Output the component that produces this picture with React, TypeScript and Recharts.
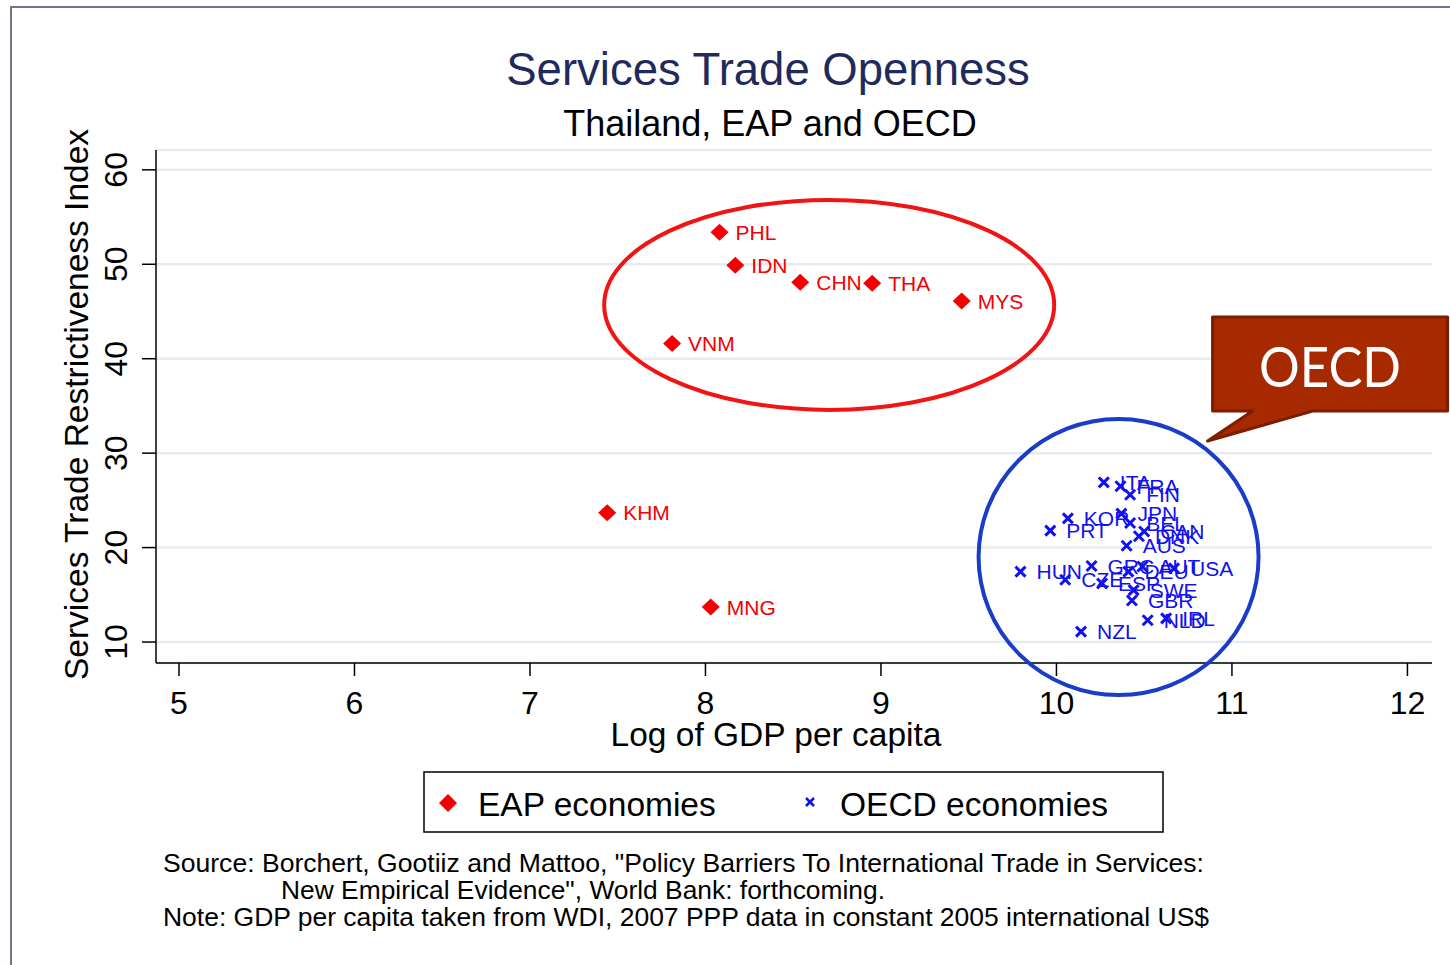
import React from "react";
import {
  ScatterChart,
  Scatter,
  XAxis,
  YAxis,
  CartesianGrid,
  ReferenceDot,
  Label,
} from "recharts";

// ---------- data ----------
const eapNames = ["PHL", "IDN", "CHN", "THA", "MYS", "VNM", "KHM", "MNG"];
const eapGdp = [8.08, 8.17, 8.54, 8.95, 9.46, 7.81, 7.44, 8.03];
const eapStri = [53.4, 49.9, 48.1, 48.0, 46.1, 41.6, 23.7, 13.7];

const oecdNames = [
  "ITA", "FRA", "FIN", "KOR", "JPN", "BEL", "CAN", "DNK", "PRT", "AUS", "HUN",
  "GRC", "CZE", "ESP", "DEU", "AUT", "USA", "SWE", "GBR", "NLD", "IRL", "NZL",
];
const oecdGdp = [
  10.27, 10.365, 10.42, 10.065, 10.37, 10.42, 10.5, 10.47, 9.965, 10.4, 9.795,
  10.2, 10.05, 10.26, 10.41, 10.49, 10.67, 10.44, 10.43, 10.52, 10.625, 10.14,
];
const oecdStri = [
  26.9, 26.5, 25.6, 23.1, 23.6, 22.6, 21.7, 21.2, 21.8, 20.2, 17.45,
  18.05, 16.6, 16.2, 17.45, 18.0, 17.8, 15.5, 14.4, 12.3, 12.5, 11.1,
];

const xTicks = [5, 6, 7, 8, 9, 10, 11, 12];
const yTicks = [10, 20, 30, 40, 50, 60];
const xDomain = [4.869, 12.14];
const yDomain = [7.78, 62.1];

// annotation anchors (data coordinates)
const eapCircleCenter = { x: 8.705, y: 45.7 };
const oecdCircleCenter = { x: 10.354, y: 19.0 };

const eapData = eapNames.map((name, i) => ({ name, x: eapGdp[i], y: eapStri[i] }));
const oecdData = oecdNames.map((name, i) => ({ name, x: oecdGdp[i], y: oecdStri[i] }));

const FONT = "'Liberation Sans', Arial, Helvetica, sans-serif";
const RED = "#f50000";
const BLUE = "#1010f0";

// ---------- shapes ----------
const Diamond = (p: any) => {
  const { cx, cy, payload } = p;
  if (cx == null || cy == null) return null;
  return (
    <g>
      <polygon
        points={`${cx},${cy - 8.5} ${cx + 9},${cy} ${cx},${cy + 8.5} ${cx - 9},${cy}`}
        fill={RED}
      />
      <text x={cx + 16} y={cy + 7.5} fontSize={21} fill={RED} fontFamily={FONT}>
        {payload.name}
      </text>
    </g>
  );
};

const Cross = (p: any) => {
  const { cx, cy, payload } = p;
  if (cx == null || cy == null) return null;
  const s = 5;
  return (
    <g>
      <line x1={cx - s} y1={cy - s} x2={cx + s} y2={cy + s} stroke={BLUE} strokeWidth={3} />
      <line x1={cx - s} y1={cy + s} x2={cx + s} y2={cy - s} stroke={BLUE} strokeWidth={3} />
      <text x={cx + 16} y={cy + 7.5} fontSize={21} fill={BLUE} fontFamily={FONT}>
        {payload.name}
      </text>
    </g>
  );
};

const RedEllipse = (p: any) => (
  <ellipse cx={p.cx} cy={p.cy} rx={225} ry={105} fill="none" stroke="#f01414" strokeWidth={4} />
);

const BlueCircle = (p: any) => {
  const { cx, cy } = p;
  const bx = cx + 94;
  const by = cy - 240;
  const bw = 235;
  const bh = 94;
  const path = `M ${bx} ${by} L ${bx + bw} ${by} L ${bx + bw} ${by + bh} L ${bx + 100} ${by + bh} L ${cx + 89} ${cy - 116} L ${bx + 40} ${by + bh} L ${bx} ${by + bh} Z`;
  return (
    <g>
      <ellipse cx={cx} cy={cy} rx={140} ry={138} fill="none" stroke="#1a3cc8" strokeWidth={4} />
      <path d={path} fill="#a62900" stroke="#7c1d00" strokeWidth={3} strokeLinejoin="round" />
      <text
        x={bx + bw / 2}
        y={by + 70}
        textAnchor="middle"
        fontSize={56}
        fill="#ffffff"
        fontFamily="Lato, 'Open Sans', sans-serif"
        textLength={142}
        lengthAdjust="spacingAndGlyphs"
      >
        OECD
      </text>
    </g>
  );
};

// ---------- ticks ----------
const XTick = (p: any) => (
  <text x={p.x} y={p.y + 38} textAnchor="middle" fontSize={32} fill="#000" fontFamily={FONT}>
    {p.payload.value}
  </text>
);

const YTick = (p: any) => (
  <text
    transform={`translate(${p.x - 15}, ${p.y}) rotate(-90)`}
    textAnchor="middle"
    fontSize={32}
    fill="#000"
    fontFamily={FONT}
  >
    {p.payload.value}
  </text>
);

const XLabel = (p: any) => {
  const vb = p.viewBox || {};
  return (
    <text x={vb.x + vb.width / 2 - 18} y={vb.y + 83} textAnchor="middle" fontSize={33.5} fill="#000" fontFamily={FONT}>
      Log of GDP per capita
    </text>
  );
};

const YLabel = (p: any) => {
  const vb = p.viewBox || {};
  const cy = vb.y + vb.height / 2 - 2;
  return (
    <text
      transform={`translate(88, ${cy}) rotate(-90)`}
      textAnchor="middle"
      fontSize={33.5}
      fill="#000"
      fontFamily={FONT}
    >
      Services Trade Restrictiveness Index
    </text>
  );
};

export default function App() {
  return (
    <div
      style={{
        position: "absolute",
        left: 0,
        top: 0,
        width: 1450,
        height: 965,
        overflow: "hidden",
        background: "#fff",
        fontFamily: FONT,
      }}
    >
      {/* frame */}
      <div
        style={{
          position: "absolute",
          left: 10,
          top: 6,
          width: 1600,
          height: 1200,
          border: "2px solid #6f7a86",
          boxSizing: "border-box",
        }}
      />
      <div style={{ position: "absolute", left: 0, top: 0 }}>
        <ScatterChart
          width={1450}
          height={965}
          margin={{ top: 150, right: 18, bottom: 212, left: 76 }}
        >
          <CartesianGrid
            horizontal
            vertical={false}
            stroke="#e6edf0"
            strokeWidth={2.5}
          />
          <XAxis
            type="number"
            dataKey="x"
            domain={xDomain}
            ticks={xTicks}
            allowDataOverflow
            height={90}
            tickSize={13}
            tickMargin={0}
            tick={<XTick />}
            axisLine={{ stroke: "#000", strokeWidth: 1.5 }}
            tickLine={{ stroke: "#000", strokeWidth: 1.5 }}
          >
            <Label content={<XLabel />} />
          </XAxis>
          <YAxis
            type="number"
            dataKey="y"
            domain={yDomain}
            ticks={yTicks}
            allowDataOverflow
            width={80}
            tickSize={14}
            tickMargin={0}
            tick={<YTick />}
            axisLine={{ stroke: "#000", strokeWidth: 1.5 }}
            tickLine={{ stroke: "#000", strokeWidth: 1.5 }}
          >
            <Label content={<YLabel />} />
          </YAxis>
          <ReferenceDot
            x={eapCircleCenter.x}
            y={eapCircleCenter.y}
            r={0}
            ifOverflow="visible"
            shape={<RedEllipse />}
          />
          <Scatter data={eapData} shape={<Diamond />} isAnimationActive={false} />
          <Scatter data={oecdData} shape={<Cross />} isAnimationActive={false} />
          <ReferenceDot
            x={oecdCircleCenter.x}
            y={oecdCircleCenter.y}
            r={0}
            ifOverflow="visible"
            shape={<BlueCircle />}
          />
        </ScatterChart>
      </div>

      {/* titles and notes */}
      <svg
        width={1450}
        height={965}
        style={{ position: "absolute", left: 0, top: 0, pointerEvents: "none" }}
      >
        <text x={768} y={85} textAnchor="middle" fontSize={45.5} fill="#1f2b5c" fontFamily={FONT}>
          Services Trade Openness
        </text>
        <text x={770} y={136} textAnchor="middle" fontSize={36} fill="#000" fontFamily={FONT}>
          Thailand, EAP and OECD
        </text>
        <text x={163} y={872} fontSize={25} fill="#000" fontFamily={FONT} textLength={1041} lengthAdjust="spacingAndGlyphs">
          Source: Borchert, Gootiiz and Mattoo, "Policy Barriers To International Trade in Services:
        </text>
        <text x={281} y={899} fontSize={25} fill="#000" fontFamily={FONT} textLength={604} lengthAdjust="spacingAndGlyphs">
          New Empirical Evidence", World Bank: forthcoming.
        </text>
        <text x={163} y={926} fontSize={25} fill="#000" fontFamily={FONT} textLength={1046} lengthAdjust="spacingAndGlyphs">
          Note: GDP per capita taken from WDI, 2007 PPP data in constant 2005 international US$
        </text>

        {/* legend */}
        <rect x={424} y={772} width={739} height={60} fill="#fff" stroke="#000" strokeWidth={1.5} />
        <polygon points="448,794 457,803 448,812 439,803" fill={RED} />
        <text x={478} y={816} fontSize={33.5} fill="#000" fontFamily={FONT}>
          EAP economies
        </text>
        <line x1={806} y1={798} x2={814} y2={806} stroke={BLUE} strokeWidth={2.5} />
        <line x1={806} y1={806} x2={814} y2={798} stroke={BLUE} strokeWidth={2.5} />
        <text x={840} y={816} fontSize={33.5} fill="#000" fontFamily={FONT}>
          OECD economies
        </text>
      </svg>
    </div>
  );
}
